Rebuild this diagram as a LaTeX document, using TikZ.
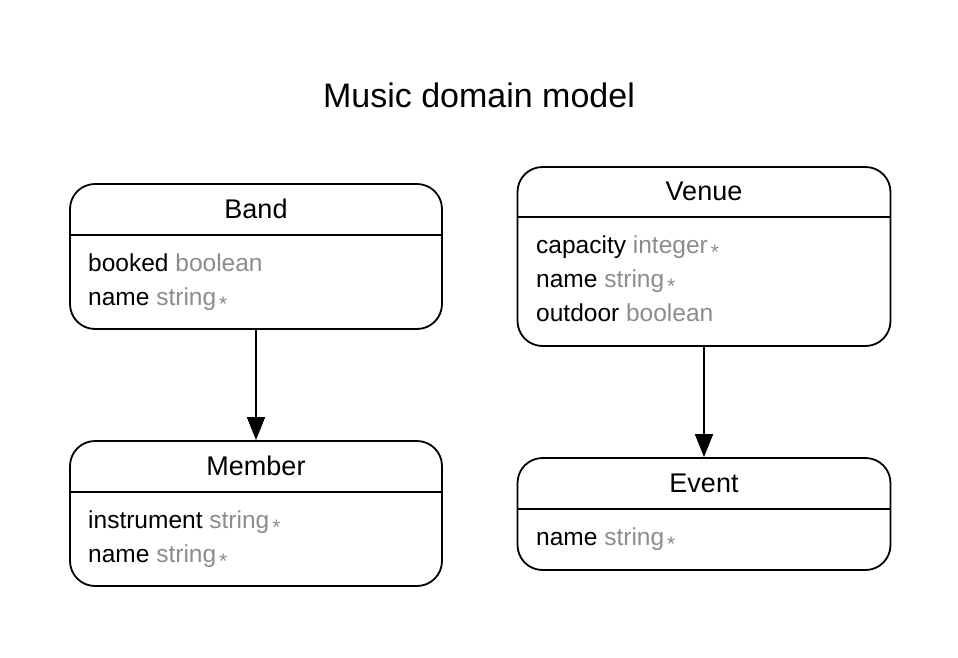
\documentclass[tikz,border=0pt]{standalone}
\usepackage{fontspec}
\setmainfont{Liberation Sans}
\usetikzlibrary{arrows.meta,calc}
\definecolor{typegray}{RGB}{140,140,140}
\newcommand{\req}{\hspace{3pt}\raisebox{-6pt}{\fontsize{21}{21}\selectfont *}}
\newcommand{\ty}[1]{\textcolor{typegray}{#1}}
\begin{document}
\begin{tikzpicture}[x=1pt,y=1pt,
  entity/.style={draw,line width=1.8pt,rounded corners=25pt,inner sep=0pt},
  sepline/.style={line width=1.8pt},
  title/.style={font=\fontsize{34}{34}\selectfont,anchor=base,inner sep=0pt},
  header/.style={font=\fontsize{27}{27}\selectfont,anchor=base,inner sep=0pt},
  attr/.style={font=\fontsize{24.5}{24.5}\selectfont,anchor=base west,inner sep=0pt},
  link/.style={line width=1.8pt,-{Triangle[length=23pt,width=18pt]}}]
\useasboundingbox (0,0) rectangle (958,-658);
\node[title] (ttl) at (479,-108) {Music domain model};
% Band
\node[entity,minimum width=372pt,minimum height=145pt] (band) at (256,-256.5) {};
\draw[sepline] ($(band.north west)+(0,-52)$) -- ($(band.north east)+(0,-52)$);
\node[header] (bandh) at (256,-218) {Band};
\node[attr] (band1) at (88,-271) {booked \ty{boolean}};
\node[attr] (band2) at (88,-305) {name \ty{string\req}};
% Member
\node[entity,minimum width=372pt,minimum height=145pt] (member) at (256,-513.5) {};
\draw[sepline] ($(member.north west)+(0,-52)$) -- ($(member.north east)+(0,-52)$);
\node[header] (memberh) at (256,-475) {Member};
\node[attr] (member1) at (88,-528) {instrument \ty{string\req}};
\node[attr] (member2) at (88,-562) {name \ty{string\req}};
% Venue
\node[entity,minimum width=373pt,minimum height=179pt] (venue) at (704,-256.5) {};
\draw[sepline] ($(venue.north west)+(0,-51)$) -- ($(venue.north east)+(0,-51)$);
\node[header] (venueh) at (704,-200) {Venue};
\node[attr] (venue1) at (536,-253) {capacity \ty{integer\req}};
\node[attr] (venue2) at (536,-287) {name \ty{string\req}};
\node[attr] (venue3) at (536,-321) {outdoor \ty{boolean}};
% Event
\node[entity,minimum width=373pt,minimum height=112pt] (event) at (704,-514) {};
\draw[sepline] ($(event.north west)+(0,-52)$) -- ($(event.north east)+(0,-52)$);
\node[header] (eventh) at (704,-492) {Event};
\node[attr] (event1) at (536,-545) {name \ty{string\req}};
% links
\draw[link] (band) -- (member);
\draw[link] (venue) -- (event);
\end{tikzpicture}
\end{document}
